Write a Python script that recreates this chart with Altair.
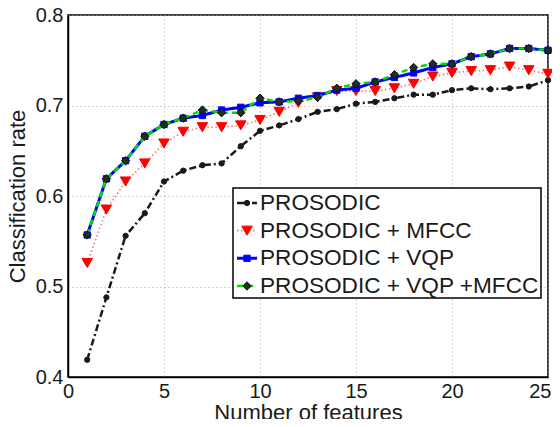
import altair as alt
import pandas as pd

features = list(range(1, 26))

prosodic = [0.419, 0.488, 0.556, 0.581, 0.616, 0.628, 0.634, 0.636, 0.655, 0.672,
            0.678, 0.685, 0.693, 0.696, 0.702, 0.704, 0.708, 0.712, 0.712, 0.717,
            0.719, 0.718, 0.719, 0.721, 0.728]
prosodic_mfcc = [0.526, 0.585, 0.616, 0.636, 0.658, 0.671, 0.676, 0.676, 0.678, 0.684,
                 0.693, 0.703, 0.709, 0.716, 0.716, 0.716, 0.719, 0.724, 0.732, 0.736,
                 0.738, 0.739, 0.743, 0.739, 0.735]
prosodic_vqp = [0.557, 0.619, 0.639, 0.666, 0.679, 0.686, 0.689, 0.695, 0.698, 0.703,
                0.704, 0.708, 0.711, 0.717, 0.719, 0.726, 0.731, 0.736, 0.742, 0.746,
                0.754, 0.757, 0.763, 0.763, 0.761]
prosodic_vqp_mfcc = [0.557, 0.619, 0.639, 0.666, 0.679, 0.686, 0.695, 0.692, 0.692, 0.708,
                     0.704, 0.705, 0.709, 0.719, 0.724, 0.726, 0.734, 0.742, 0.746, 0.746,
                     0.754, 0.757, 0.763, 0.763, 0.761]

names = ["PROSODIC", "PROSODIC + MFCC", "PROSODIC + VQP", "PROSODIC + VQP +MFCC"]
series_values = [prosodic, prosodic_mfcc, prosodic_vqp, prosodic_vqp_mfcc]
x_ticks = [0, 5, 10, 15, 20, 25]
y_ticks = [0.4, 0.5, 0.6, 0.7, 0.8]

styles = [
    dict(color="#1a1a1a", dash=[7, 3, 2, 3], width=2.5, shape="circle", size=28,
         fill="#1a1a1a", mstroke="#1a1a1a"),
    dict(color="#ff7070", dash=[1.5, 2.5], width=1.6, shape="triangle-down", size=110,
         fill="#ff0000", mstroke="#ff0000"),
    dict(color="#0000ff", dash=[1, 0], width=3, shape="square", size=40,
         fill="#0000ff", mstroke="#0000ff"),
    dict(color="#00e000", dash=[6, 4], width=2.5, shape="diamond", size=70,
         fill="#1f2f1f", mstroke="#111111"),
]

FONT = "Liberation Sans"
W, H = 480, 362

xscale = alt.Scale(domain=[0, 25], nice=False, zero=False)
yscale = alt.Scale(domain=[0.4, 0.8], nice=False, zero=False)
legend_scale = alt.Scale(type="point", domain=names, range=[188, 271], padding=0)

xax = alt.Axis(values=x_ticks, title="Number of features",
               grid=True, ticks=False, labelPadding=4, titlePadding=1,
               labelAlign={"condition": {"test": "datum.value == 25", "value": "right"},
                           "value": "center"},
               labelOffset={"condition": {"test": "datum.value == 25", "value": 3},
                            "value": 0})
yax = alt.Axis(values=y_ticks, format=".1f",
               title="Classification rate", grid=True, ticks=False,
               labelPadding=5, titlePadding=6)

layers = []
for i, (name, vals, st) in enumerate(zip(names, series_values, styles)):
    df = pd.DataFrame({"features": features, "rate": vals, "series": name})
    base = alt.Chart(df)
    line = base.mark_line(color=st["color"], strokeDash=st["dash"],
                          strokeWidth=st["width"]).encode(
        x=alt.X("features:Q", scale=xscale, axis=xax),
        y=alt.Y("rate:Q", scale=yscale, axis=yax if i == 0 else None),
    )
    pts = base.mark_point(shape=st["shape"], size=st["size"], filled=True,
                          fill=st["fill"], stroke=st["mstroke"], strokeWidth=1,
                          opacity=1).encode(
        x=alt.X("features:Q", scale=xscale, axis=xax),
        y=alt.Y("rate:Q", scale=yscale, axis=None),
    )
    layers += [line, pts]

# legend box
box_df = pd.DataFrame({"k": [0]})
box = alt.Chart(box_df).mark_rect(fill="white", stroke="black", strokeWidth=1.5).encode(
    x=alt.value(165), x2=alt.value(473), y=alt.value(173), y2=alt.value(283)
)
layers.append(box)

for name, st in zip(names, styles):
    ldf = pd.DataFrame({"series": [name]})
    lb = alt.Chart(ldf)
    rule = lb.mark_rule(color=st["color"], strokeDash=st["dash"],
                        strokeWidth=st["width"]).encode(
        x=alt.value(169), x2=alt.value(189),
        y=alt.Y("series:N", scale=legend_scale, axis=None),
    )
    pt = lb.mark_point(shape=st["shape"], size=st["size"], filled=True,
                       fill=st["fill"], stroke=st["mstroke"], strokeWidth=1,
                       opacity=1).encode(
        x=alt.value(179),
        y=alt.Y("series:N", scale=legend_scale, axis=None),
    )
    txt = lb.mark_text(align="left", baseline="middle", font=FONT, fontSize=22.6,
                       color="#1a1a1a").encode(
        x=alt.value(192),
        y=alt.Y("series:N", scale=legend_scale, axis=None),
        text="series:N",
    )
    layers += [rule, pt, txt]

chart = alt.layer(*layers).resolve_scale(y="independent").properties(
    width=W, height=H,
    autosize=alt.AutoSizeParams(type="none"),
    padding={"left": 60, "top": 7, "right": 4, "bottom": 42},
).configure_view(
    stroke="black", strokeWidth=1.5
).configure_axis(
    labelFont=FONT, titleFont=FONT, labelFontSize=20, titleFontSize=22,
    labelColor="#1a1a1a", titleColor="#1a1a1a", titleFontWeight="normal",
    domainColor="black", domainWidth=1.5,
    gridColor="#aaaaaa", gridDash=[1, 3], gridWidth=1,
)

chart.save("out.html", embed_options={"renderer": "svg", "actions": False})
